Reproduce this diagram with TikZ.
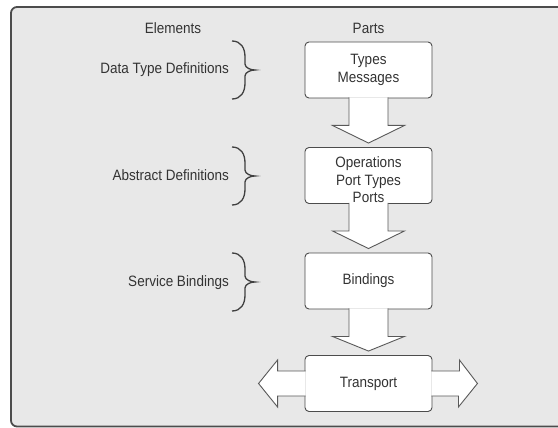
\documentclass[tikz,border=0pt]{standalone}
\usepackage{fontspec}
\newfontfamily\figfont[FakeStretch=0.9]{Liberation Sans}
\usetikzlibrary{calc}

\tikzset{
  pics/curly/.style={code={
    \draw[brc] (0,-29) .. controls (9,-29) and (13,-22) .. (13,-13) -- (13,-6)
      .. controls (13,-2) and (19,0) .. (23,0)
      .. controls (19,0) and (13,2) .. (13,6) -- (13,13)
      .. controls (13,22) and (9,29) .. (0,29);
  }}
}

\begin{document}
\begin{tikzpicture}[x=1pt, y=-1pt,
  txt/.style={font=\figfont\fontsize{15}{17.5}\selectfont, text=black!80, inner sep=0pt},
  part/.style={txt, draw=black!70, fill=white, line width=0.9pt, rounded corners=4pt,
               minimum width=127pt, minimum height=56pt, align=center},
  fat/.style={draw=black!65, fill=white, line width=0.9pt},
  brc/.style={draw=black!75, line width=1.3pt},
  frame/.style={draw=black!70, fill=black!9, line width=1.8pt, rounded corners=6pt}
]
  \clip (0,0) rectangle (558,428);
  \draw[frame] (11,7) rectangle (575,426.5);

  % column headings
  \node[txt] (elem)  at (173,28)   {Elements};
  \node[txt] (parts) at (368.5,28) {Parts};

  % the parts
  \node[part] (types) at (368.5,70)    {Types\\Messages};
  \node[part] (ops)   at (368.5,175.5) {};
  \node[txt, align=center] (opslbl) at (368.5,180) {Operations\\Port Types\\Ports};
  \node[part] (bind)  at (368.5,281)   {Bindings};
  \node[part] (trans) at (368.5,383.5) {Transport};

  % the elements, with their braces
  \node[txt, anchor=east] (dtd)    at (229,70)  {Data Type Definitions};
  \node[txt, anchor=east] (absdef) at (229,175) {Abstract Definitions};
  \node[txt, anchor=east] (svc)    at (229,283) {Service Bindings};
  \pic at ($(dtd.east)+(3,0)$)     {curly};
  \pic at ($(absdef.east)+(3,1)$)  {curly};
  \pic at ($(svc.east)+(3,-1)$)    {curly};

  % fat arrows down the stack
  \foreach \a/\b in {types/ops, ops/bind, bind/trans}
    \draw[fat] ($(\a.south)+(-19.5,-1)$) -- ($(\a.south)+(-19.5,27)$) -- ($(\a.south)+(-36,27)$)
      -- ($(\b.north)+(0,-4)$) -- ($(\a.south)+(36,27)$) -- ($(\a.south)+(19.5,27)$)
      -- ($(\a.south)+(19.5,-1)$);

  % transport goes both ways
  \draw[fat] ($(trans.west)+(1,-12.5)$) -- ++(-28,0) -- ++(0,-11) -- ($(trans.west)+(-46,0)$)
    -- ($(trans.west)+(-27,23.5)$) -- ++(0,-11) -- ($(trans.west)+(1,12.5)$);
  \draw[fat] ($(trans.east)+(-1,-12.5)$) -- ++(28,0) -- ++(0,-11) -- ($(trans.east)+(45,0)$)
    -- ($(trans.east)+(26,23.5)$) -- ++(0,-11) -- ($(trans.east)+(-1,12.5)$);
\end{tikzpicture}
\end{document}
